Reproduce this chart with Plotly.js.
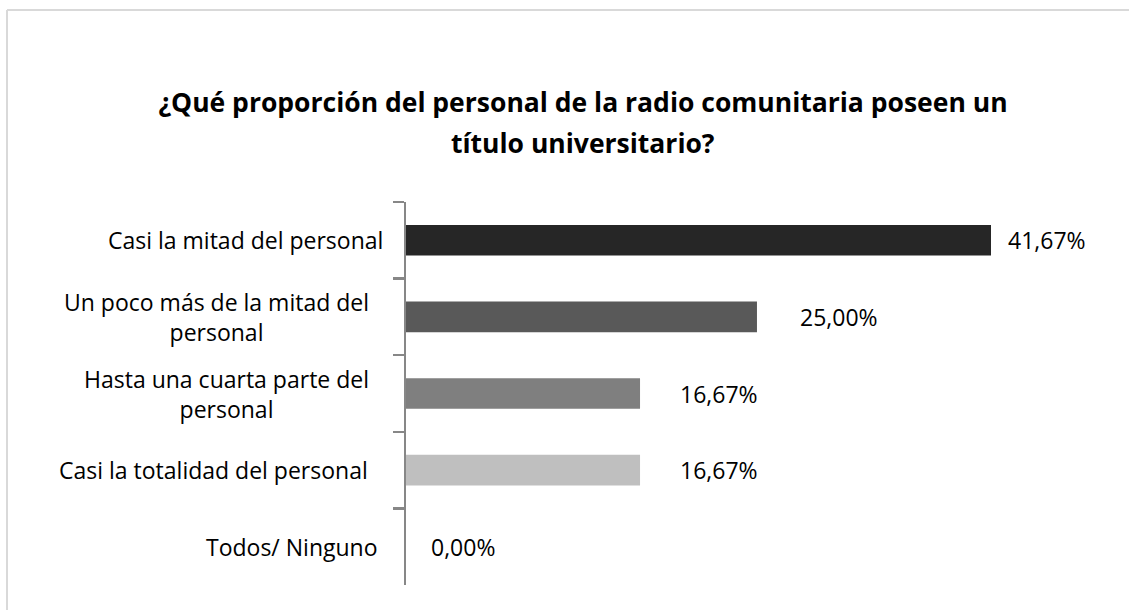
<!DOCTYPE html>
<html>
<head>
<meta charset="utf-8">
<script src="https://cdn.plot.ly/plotly-3.0.1.min.js"></script>
<style>
html,body{margin:0;padding:0;background:#fff;}
#chart{width:1129px;height:610px;}
</style>
</head>
<body>
<div id="chart"></div>
<script>
// ---- data ----
const categories = [
  "Casi la mitad del personal",
  "Un poco más de la mitad del personal",
  "Hasta una cuarta parte del personal",
  "Casi la totalidad del personal",
  "Todos/ Ninguno"
];
const labelLines = [
  ["Casi la mitad del personal"],
  ["Un poco más de la mitad del", "personal"],
  ["Hasta una cuarta parte del", "personal"],
  ["Casi la totalidad del personal"],
  ["Todos/ Ninguno"]
];
const values = [41.67, 25.00, 16.67, 16.67, 0.00];
const valueLabels = ["41,67%", "25,00%", "16,67%", "16,67%", "0,00%"];
const titleLine1 = "¿Qué proporción del personal de la radio comunitaria poseen un";
const titleLine2 = "título universitario?";

// ---- style ----
const barColors = ["#262626", "#595959", "#7f7f7f", "#bfbfbf", "#bfbfbf"];
const valueShift = [15, 41, 38, 38, 23];
const labelShift = [-21, -35, -35, -36, -26];
const FONT = "Open Sans, Noto Sans, sans-serif";
const LABEL_SIZE = 23;
const TITLE_SIZE = 26.5;
const W = 1129, H = 610;
const mL = 406, mR = 9, mT = 202, mB = 25;
const plotW = W - mL - mR, plotH = H - mT - mB;
const pxPerUnit = 585 / 41.67;
const xMax = plotW / pxPerUnit;
const px2paperX = p => (p - mL) / plotW;
const px2paperY = p => (H - mB - p) / plotH;

const annotations = [];
categories.forEach((c, i) => {
  annotations.push({
    xref: 'paper', yref: 'y', x: 0, y: c,
    xanchor: 'right', yanchor: 'middle',
    xshift: labelShift[i],
    text: labelLines[i].join('<br>'), showarrow: false, align: 'center',
    font: {family: FONT, size: LABEL_SIZE, color: '#000'}
  });
  annotations.push({
    xref: 'x', yref: 'y', x: values[i], y: c,
    xanchor: 'left', yanchor: 'middle', xshift: valueShift[i],
    text: valueLabels[i], showarrow: false,
    font: {family: FONT, size: LABEL_SIZE, color: '#000'}
  });
});
annotations.push({
  xref: 'paper', yref: 'paper', x: px2paperX(583), y: px2paperY(143),
  xanchor: 'center', yanchor: 'middle', showarrow: false,
  text: '<b>' + titleLine2 + '</b>',
  font: {family: FONT, size: TITLE_SIZE, color: '#000'}
});

const trace = {
  type: 'bar', orientation: 'h',
  x: values, y: categories,
  marker: {color: barColors},
  hoverinfo: 'none'
};

const layout = {
  width: W, height: H,
  margin: {l: mL, r: mR, t: mT, b: mB, pad: 0},
  paper_bgcolor: '#fff', plot_bgcolor: '#fff',
  showlegend: false,
  bargap: 0.6,
  title: {
    text: '<b>' + titleLine1 + '</b>',
    x: 583 / W, xanchor: 'center',
    y: 1 - 103 / H, yanchor: 'middle', yref: 'container',
    font: {family: FONT, size: TITLE_SIZE, color: '#000'}
  },
  xaxis: {
    range: [0, xMax], visible: false, fixedrange: true
  },
  yaxis: {
    type: 'category', autorange: 'reversed',
    showticklabels: false,
    ticks: 'outside', ticklen: 11, tickwidth: 2.5, tickcolor: '#878787',
    tickson: 'boundaries',
    showline: true, linecolor: '#878787', linewidth: 2.5,
    showgrid: false, zeroline: false, fixedrange: true
  },
  annotations: annotations,
  shapes: [
    {type: 'line', xref: 'paper', yref: 'paper',
     x0: px2paperX(7), x1: px2paperX(1129), y0: px2paperY(10), y1: px2paperY(10),
     line: {color: '#d9d9d9', width: 2}},
    {type: 'line', xref: 'paper', yref: 'paper',
     x0: px2paperX(7), x1: px2paperX(7), y0: px2paperY(10), y1: px2paperY(610),
     line: {color: '#d9d9d9', width: 2}}
  ]
};

Plotly.newPlot('chart', [trace], layout, {displayModeBar: false, staticPlot: true});
</script>
</body>
</html>
